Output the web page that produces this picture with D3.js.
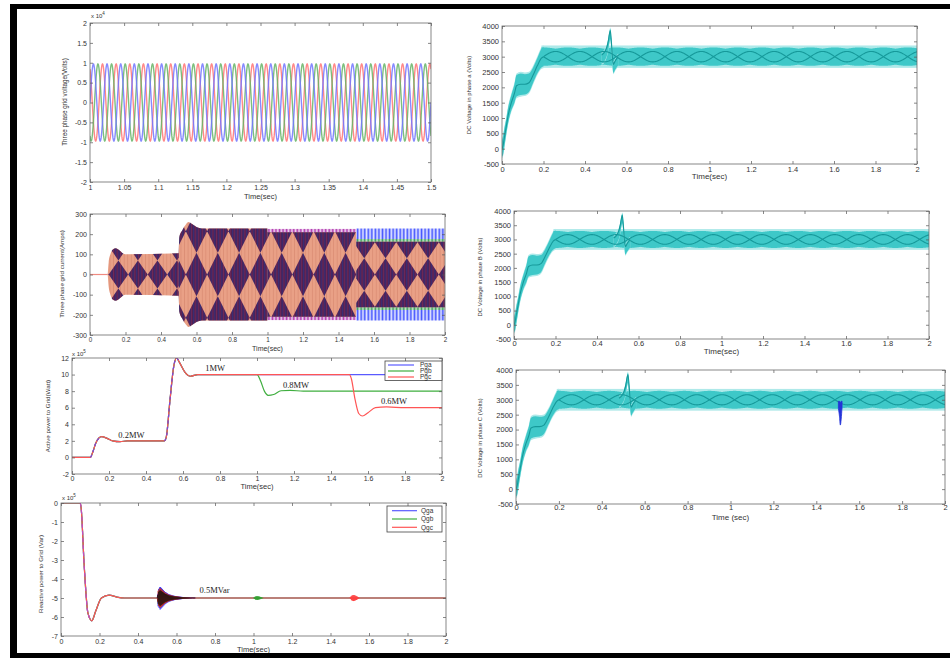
<!DOCTYPE html>
<html><head><meta charset="utf-8">
<script src="https://cdn.jsdelivr.net/npm/d3@7"></script>
<style>
html,body{margin:0;padding:0;background:#fff;overflow:hidden;}
</style></head><body>
<svg id="c" width="950" height="658"></svg>
<script>
// ================= DATA =================
const timeTicks = [0,0.2,0.4,0.6,0.8,1,1.2,1.4,1.6,1.8,2];

// Panel 1 : three phase grid voltage (x10^4 V), 1.0 - 1.5 s
const voltTimeTicks = [1,1.05,1.1,1.15,1.2,1.25,1.3,1.35,1.4,1.45,1.5];
const voltTicks = [-2,-1.5,-1,-0.5,0,0.5,1,1.5,2];
const voltPhaseShiftDeg = [120,-120,0];
const voltPeak = [0.97,0.97,0.97];
const gridFreqHz = [50];

// Panel 2 : three phase grid current (A)
const currTicks = [-300,-200,-100,0,100,200,300];
const currZeroT = [0,0.1];
const currEnvT = [0.1,0.105,0.115,0.13,0.145,0.165,0.185,0.2,0.499, 0.5,0.503,0.52,0.54,0.555,0.575,0.6,0.63,0.999, 1.0,1.499, 1.5,2.0];
const currEnvA = [0,60,100,125,130,120,105,100,105, 110,185,220,248,260,250,235,228,228, 210,210, 162,162];
const segStart = [0.1,0.5,1.0,1.5];
const segEnd = [0.5,1.0,1.5,2.0];
const segLattice = [140,215,215,160];
const segBeat = [0.11,0.12,0.12,0.12];
const segFirstNode = [0.16,0.6,1.08,1.665];
const fringeT0 = [1.0,1.5,1.5];
const fringeT1 = [1.5,2.0,2.0];
const fringeAmp = [226,228,176];

// Panel 3 : active power (x10^5 W)
const powerTicks = [-2,0,2,4,6,8,10,12];
const pCommonT = [0,0.1,0.11,0.13,0.16,0.19,0.22,0.26,0.3,0.5,0.51,0.53,0.55,0.565,0.58,0.61,0.64,0.68,0.72];
const pCommonV = [0,0,0.5,1.8,2.5,2.3,2.0,1.9,2.0,2.0,2.5,7,11,12,11.5,10.3,9.8,10,10];
const pgaT = [1.0,2.0];
const pgaV = [10,10];
const pgbT = [1.0,1.02,1.04,1.06,1.09,1.13,1.18,1.25,2.0];
const pgbV = [10,9.2,8.0,7.5,7.6,8.05,8.1,8.0,8.0];
const pgcT = [1.5,1.51,1.53,1.55,1.57,1.6,1.64,1.7,1.8,2.0];
const pgcV = [10,9.5,7,5.3,5.0,5.4,6.0,6.1,6.0,6.0];
const pNames = ["Pga","Pgb","Pgc"];
const pLabels = ["0.2MW","1MW","0.8MW","0.6MW"];
const pLabelT = [0.25,0.72,1.14,1.67];
const pLabelV = [2.3,10.4,8.4,6.4];

// Panel 4 : reactive power (x10^5 Var)
const reactTicks = [-7,-6,-5,-4,-3,-2,-1,0];
const qT = [0,0.1,0.105,0.12,0.14,0.16,0.18,0.21,0.25,0.29,0.33,2.0];
const qV = [0,0,-0.3,-3.2,-5.8,-6.2,-5.7,-5.0,-4.85,-4.95,-5.0,-5.0];
const qNames = ["Qga","Qgb","Qgc"];
const qBurst1T = [0.5,0.505,0.515,0.525,0.54,0.56,0.59,0.63,0.7];
const qBurst1A = [0,0.4,0.55,0.45,0.3,0.18,0.1,0.05,0];
const qBurst2T = [1.0,1.01,1.02,1.035,1.05];
const qBurst2A = [0,0.08,0.1,0.06,0];
const qBurst3T = [1.5,1.51,1.52,1.535,1.55];
const qBurst3A = [0,0.12,0.16,0.1,0];
const qLabel = ["0.5MVar"];
const qLabelT = [0.72];
const qLabelV = [-4.75];

// Right panels : DC voltages (V)
const dcTicks = [-500,0,500,1000,1500,2000,2500,3000,3500,4000];
const dcRampT = [0,0.005,0.01,0.02,0.03,0.045,0.06,0.07,0.09,0.11,0.13,0.15,0.17,0.19,0.2];
const dcRampC = [0,100,300,700,1100,1500,1800,2050,2100,2100,2150,2400,2700,2950,3000];
const dcRampH = [250,300,300,250,250,250,300,350,350,330,300,250,250,300,320];
const dcLevel = [3000];
const dcBandHalf = [365,300,170];
const dcEyeLen = [0.117];
const dcEyeStart = [0.2];
const dcSpikeT = [0.48,0.495,0.505,0.512,0.518,0.522,0.527,0.532,0.537,0.545,0.56];
const dcSpikeV = [3050,3150,3300,3500,3750,3850,3500,3000,2750,2850,3000];
const dcDipT = [1.503,1.508,1.512,1.516,1.52];
const dcDipLow = [2700,2450,2150,2350,2750];
const dcDipHigh = [2950,2950,2900,2950,2950];

// ================= DRAWING =================
const svg = d3.select("#c");
const defs = svg.append("defs");
const SANS = '"Liberation Sans", Arial, Helvetica, sans-serif';
const SERIF = '"Liberation Serif", "Times New Roman", serif';
const fmt = d => String(+(+d).toFixed(2));

function makePanel(o){
  const x = d3.scaleLinear().domain(o.xd).range([o.x0,o.x1]);
  const y = d3.scaleLinear().domain(o.yd).range([o.y1,o.y0]);
  defs.append("clipPath").attr("id","clip-"+o.id).append("rect")
    .attr("x",o.x0).attr("y",o.y0).attr("width",o.x1-o.x0).attr("height",o.y1-o.y0);
  const root = svg.append("g");
  const plot = root.append("g").attr("clip-path",`url(#clip-${o.id})`);
  function finish(){
    const ax = root.append("g");
    const b = ax.append("g").attr("transform",`translate(0,${o.y1})`)
      .call(d3.axisBottom(x).tickValues(o.xt).tickFormat(fmt).tickSizeInner(-3).tickSizeOuter(0));
    b.selectAll("text").attr("y", o.xtb - o.y1).attr("dy", null);
    ax.append("g").attr("transform",`translate(0,${o.y0})`)
      .call(d3.axisTop(x).tickValues(o.xt).tickFormat("").tickSizeInner(-3).tickSizeOuter(0));
    ax.append("g").attr("transform",`translate(${o.x0},0)`)
      .call(d3.axisLeft(y).tickValues(o.yt).tickFormat(fmt).tickSizeInner(-3).tickSizeOuter(0).tickPadding(3));
    ax.append("g").attr("transform",`translate(${o.x1},0)`)
      .call(d3.axisRight(y).tickValues(o.yt).tickFormat("").tickSizeInner(-3).tickSizeOuter(0));
    ax.selectAll(".domain").remove();
    ax.selectAll(".tick line").attr("stroke","#555").attr("stroke-width",0.7);
    ax.selectAll(".tick text").attr("font-size",o.fs).attr("font-family",SANS).attr("fill","#333");
    if(o.xfs) b.selectAll("text").attr("font-size",o.xfs);
    ax.append("rect").attr("x",o.x0).attr("y",o.y0).attr("width",o.x1-o.x0).attr("height",o.y1-o.y0)
      .attr("fill","none").attr("stroke","#6a6a6a").attr("stroke-width",0.8);
    ax.append("text").attr("x",(o.x0+o.x1)/2).attr("y",o.xlb).attr("text-anchor","middle")
      .attr("font-size",o.lfs).attr("font-family",SANS).attr("fill","#333").text(o.xlab);
    ax.append("text").attr("transform",`translate(${o.ylx},${o.yly}) rotate(-90)`).attr("text-anchor","middle")
      .attr("font-size",o.yfs).attr("font-family",SANS).attr("fill","#333").text(o.ylab);
    if(o.exp){
      const t = ax.append("text").attr("x",o.exp[0]).attr("y",o.exp[1]).attr("font-size",6)
        .attr("font-family",SANS).attr("fill","#333");
      t.append("tspan").text("x 10");
      t.append("tspan").attr("dy",-3).attr("font-size",4.5).text(o.exp[2]);
    }
  }
  return {x,y,plot,root,finish};
}

function legend(g, x0, y0, w, h, rows, names, colors, lx0, lx1, tx){
  g.append("rect").attr("x",x0).attr("y",y0).attr("width",w).attr("height",h)
    .attr("fill","#fff").attr("stroke","#444").attr("stroke-width",0.8);
  names.forEach((n,i)=>{
    g.append("line").attr("x1",lx0).attr("x2",lx1).attr("y1",rows[i]).attr("y2",rows[i])
      .attr("stroke",colors[i]).attr("stroke-width",1.2);
    g.append("text").attr("x",tx).attr("y",rows[i]+2.2).attr("font-size",6.5)
      .attr("font-family",SANS).attr("fill","#333").text(n);
  });
}

// ---------- Panel 1 ----------
{
  const P = makePanel({id:"p1",x0:90,x1:431,y0:23,y1:182,xd:[1,1.5],yd:[-2,2],xt:voltTimeTicks,yt:voltTicks,
    xtb:190,xlb:199,xlab:"Time(sec)",ylab:"Three phase grid voltage(Volts)",ylx:67,yly:102,fs:7,lfs:7.5,yfs:6.3,exp:[91,18,"4"]});
  const cols = ["#ff7474","#66b466","#7276ff"];
  const ts = d3.range(1, 1.50001, 0.0004);
  voltPhaseShiftDeg.forEach((ph,i)=>{
    const line = d3.line().x(t=>P.x(t))
      .y(t=>P.y(voltPeak[i]*Math.sin(2*Math.PI*gridFreqHz[0]*t + ph*Math.PI/180)));
    P.plot.append("path").attr("d",line(ts)).attr("fill","none")
      .attr("stroke",cols[i]).attr("stroke-width",1.4).attr("opacity",0.85);
  });
  P.finish();
}

// ---------- Panel 2 ----------
{
  const P = makePanel({id:"p2",x0:90,x1:445,y0:214,y1:335,xd:[0,2],yd:[-300,300],xt:timeTicks,yt:currTicks,
    xtb:342,xlb:350.5,xlab:"Time(sec)",ylab:"Three phase grid current(Amps)",ylx:64,yly:274,fs:7,xfs:6.3,lfs:7,yfs:6.2});
  const {x,y,plot} = P;
  const cw = x(0.02)-x(0);
  function stripePat(id,bg,lines){
    const p = defs.append("pattern").attr("id",id).attr("patternUnits","userSpaceOnUse")
      .attr("width",cw).attr("height",20).attr("x",x(0)).attr("y",0);
    p.append("rect").attr("width",cw).attr("height",20).attr("fill",bg);
    lines.forEach(([lx,w,c])=>p.append("rect").attr("x",lx*cw).attr("y",0).attr("width",w).attr("height",20).attr("fill",c));
  }
  stripePat("pSal","#e9a086",[[0.55,0.7,"#d98a72"]]);
  stripePat("pDark","#4b2051",[[0.05,0.9,"#35307f"],[0.55,0.8,"#7a2a58"]]);
  stripePat("pMag","#ecd2ec",[[0.15,1.7,"#b23ab2"]]);
  stripePat("pBlue","#e2e5ff",[[0.15,1.7,"#4656ff"]]);
  stripePat("pGreen","#bfe0c4",[[0.15,1.6,"#3a9e5a"]]);
  const fringePats = ["pMag","pBlue","pGreen"];

  plot.append("path").attr("d",d3.line().x(t=>x(t)).y(()=>y(0))(currZeroT))
    .attr("stroke","#f08a80").attr("stroke-width",1.2).attr("fill","none");

  fringeT0.forEach((t0,i)=>{
    plot.append("rect").attr("x",x(t0)).attr("width",x(fringeT1[i])-x(t0))
      .attr("y",y(fringeAmp[i])).attr("height",y(-fringeAmp[i])-y(fringeAmp[i]))
      .attr("fill",`url(#${fringePats[i]})`);
  });

  const env = currEnvT.map((t,i)=>({t,a:currEnvA[i]}));
  const envArea = d3.area().x(d=>x(d.t)).y0(d=>y(-d.a)).y1(d=>y(d.a)).curve(d3.curveMonotoneX);
  defs.append("clipPath").attr("id","envClip").append("path").attr("d",envArea(env));
  plot.append("path").attr("d",envArea(env)).attr("fill","url(#pSal)");
  const dg = plot.append("g").attr("clip-path","url(#envClip)");
  segStart.forEach((ts,s)=>{
    const te = segEnd[s], Ap = segLattice[s], W = segBeat[s], c0 = segFirstNode[s];
    defs.append("clipPath").attr("id","seg"+s).append("rect")
      .attr("x",x(ts)).attr("y",y(300)).attr("width",x(te)-x(ts)).attr("height",y(-300)-y(300));
    const sg = dg.append("g").attr("clip-path",`url(#seg${s})`);
    const kMin = Math.floor((ts-c0)/W)-1, kMax = Math.ceil((te-c0)/W)+1;
    for(let k=kMin;k<=kMax;k++){
      const cx = c0 + k*W;
      [-2,0,2].forEach(j=>{
        const cy = j*Ap/2;
        const pts = [[cx-W/2,cy],[cx,cy+Ap/2],[cx+W/2,cy],[cx,cy-Ap/2]]
          .map(([a,b])=>[x(a),y(b)]);
        sg.append("polygon").attr("points",pts.map(p=>p.join(",")).join(" ")).attr("fill","url(#pDark)");
      });
    }
  });
  P.finish();
}

// ---------- Panel 3 ----------
{
  const P = makePanel({id:"p3",x0:72,x1:442,y0:358,y1:474,xd:[0,2],yd:[-2,12],xt:timeTicks,yt:powerTicks,
    xtb:481,xlb:488.5,xlab:"Time(sec)",ylab:"Active power to Grid(Watt)",ylx:50,yly:416,fs:7,lfs:7.5,yfs:6.2,exp:[72,356,"5"]});
  const {x,y,plot} = P;
  const cols = ["#5a5aff","#3fae3f","#ff5555"];
  const common = pCommonT.map((t,i)=>({t,v:pCommonV[i]}));
  const series = [
    common.concat(pgaT.map((t,i)=>({t,v:pgaV[i]}))),
    common.concat(pgbT.map((t,i)=>({t,v:pgbV[i]}))),
    common.concat(pgcT.map((t,i)=>({t,v:pgcV[i]})))
  ];
  const line = d3.line().x(d=>x(d.t)).y(d=>y(d.v)).curve(d3.curveMonotoneX);
  series.forEach((s,i)=>plot.append("path").attr("d",line(s)).attr("fill","none")
    .attr("stroke",cols[i]).attr("stroke-width",1.2));
  [[0.1,0.17],[0.5,0.575]].forEach(([a,b])=>{
    plot.append("path").attr("d",line(common.filter(d=>d.t>=a-0.001&&d.t<=b+0.01)))
      .attr("fill","none").attr("stroke","#7a48d8").attr("stroke-width",1.2).attr("stroke-dasharray","3,3");
  });
  pLabels.forEach((l,i)=>plot.append("text").attr("x",x(pLabelT[i])).attr("y",y(pLabelV[i]))
    .attr("font-family",SERIF).attr("font-size",8.5).attr("fill","#222").text(l));
  P.finish();
  legend(P.root,385,361,57,19.5,[365,371,377],pNames,cols,388,414,420);
}

// ---------- Panel 4 ----------
{
  const P = makePanel({id:"p4",x0:61,x1:446,y0:503,y1:636,xd:[0,2],yd:[-7,0],xt:timeTicks,yt:reactTicks,
    xtb:644,xlb:652,xlab:"Time(sec)",ylab:"Reactive power to Grid (Var)",ylx:43,yly:574,fs:7,lfs:7.5,yfs:6.2,exp:[62,500,"5"]});
  const {x,y,plot} = P;
  const cols = ["#5a5aff","#3fae3f","#ff5555"];
  const q = qT.map((t,i)=>({t,v:qV[i]}));
  const line = d3.line().x(d=>x(d.t)).y(d=>y(d.v)).curve(d3.curveMonotoneX);
  cols.forEach(c=>plot.append("path").attr("d",line(q)).attr("fill","none").attr("stroke",c).attr("stroke-width",1.2));
  plot.append("path").attr("d",line(q.filter(d=>d.t>=0.1&&d.t<=0.16))).attr("fill","none")
    .attr("stroke","#c050c0").attr("stroke-width",1.2).attr("stroke-dasharray","4,3");
  function burst(T,A,color,scale,phase,w){
    const s = d3.scaleLinear().domain(T).range(A).clamp(true);
    const pts = d3.range(T[0],T[T.length-1],0.0025).map((t,k)=>({t,v:-5+((k+phase)%2?1:-1)*s(t)*scale}));
    plot.append("path").attr("d",d3.line().x(d=>x(d.t)).y(d=>y(d.v))(pts))
      .attr("fill","none").attr("stroke",color).attr("stroke-width",w);
  }
  burst(qBurst1T,qBurst1A,"#3030ff",1.1,0,0.8);
  burst(qBurst1T,qBurst1A,"#c83020",0.95,1,0.8);
  burst(qBurst1T,qBurst1A,"#2a1410",0.75,0,0.8);
  burst(qBurst2T,qBurst2A,"#30a030",1,0,0.9);
  burst(qBurst3T,qBurst3A,"#ff4040",1,0,0.9);
  plot.append("text").attr("x",x(qLabelT[0])).attr("y",y(qLabelV[0]))
    .attr("font-family",SERIF).attr("font-size",8.5).attr("fill","#222").text(qLabel[0]);
  P.finish();
  legend(P.root,387,506,55,26,[510.7,519,527.3],qNames,cols,392,417,421);
}

// ---------- Right panels ----------
function drawDC(P, withDip){
  const {x,y,plot} = P;
  const LIGHT="#aee9e9", MID="#3ec8c8", DARK="#16999a";
  const L = dcLevel[0], [hl,hm,he] = dcBandHalf, W = dcEyeLen[0], e0 = dcEyeStart[0];
  const ramp = dcRampT.map((t,i)=>({t,c:dcRampC[i],h:dcRampH[i]}));
  const rampArea = ex => d3.area().x(d=>x(d.t)).y0(d=>y(d.c-d.h-ex)).y1(d=>y(d.c+d.h+ex)).curve(d3.curveMonotoneX);
  plot.append("path").attr("d",rampArea(55)(ramp)).attr("fill",LIGHT);
  plot.append("rect").attr("x",x(0.19)).attr("width",x(2)-x(0.19)).attr("y",y(L+hl)).attr("height",y(L-hl)-y(L+hl)).attr("fill",LIGHT);
  plot.append("path").attr("d",rampArea(0)(ramp)).attr("fill",MID);
  const tt = d3.range(0.19, 2.0001, 0.002);
  const sc = t=>Math.abs(Math.cos(Math.PI*(t-e0)/W));
  plot.append("path").attr("d",d3.area().x(t=>x(t)).y0(t=>y(L-hm+40-40*sc(t))).y1(t=>y(L+hm-40+40*sc(t)))(tt)).attr("fill",MID);
  plot.append("path").attr("d",d3.line().x(d=>x(d.t)).y(d=>y(d.c)).curve(d3.curveMonotoneX)(ramp))
    .attr("fill","none").attr("stroke",DARK).attr("stroke-width",1.1);
  const sp = dcSpikeT.map((t,i)=>({t,v:dcSpikeV[i]}));
  plot.append("path").attr("d",d3.area().x(d=>x(d.t)).y0(d=>y(d.v-320)).y1(d=>y(d.v+100)).curve(d3.curveMonotoneX)(sp)).attr("fill",LIGHT);
  plot.append("path").attr("d",d3.area().x(d=>x(d.t)).y0(d=>y(d.v-280)).y1(d=>y(d.v+60)).curve(d3.curveMonotoneX)(sp)).attr("fill",MID);
  const te = tt.filter(t=>t>=e0);
  [1,-1].forEach(sg=>{
    plot.append("path").attr("d",d3.line().x(t=>x(t)).y(t=>y(L+sg*he*Math.sin(Math.PI*(t-e0)/W)))(te))
      .attr("fill","none").attr("stroke",DARK).attr("stroke-width",1.1);
  });
  plot.append("path").attr("d",d3.line().x(d=>x(d.t)).y(d=>y(d.v)).curve(d3.curveMonotoneX)(sp))
    .attr("fill","none").attr("stroke",DARK).attr("stroke-width",1.1);
  if(withDip){
    const dp = dcDipT.map((t,i)=>({t,lo:dcDipLow[i],hi:dcDipHigh[i]}));
    plot.append("path").attr("d",d3.area().x(d=>x(d.t)).y0(d=>y(d.lo)).y1(d=>y(d.hi)).curve(d3.curveMonotoneX)(dp))
      .attr("fill","#2434d8").attr("stroke","#2434d8").attr("stroke-width",0.8);
  }
}
{
  const P = makePanel({id:"r1",x0:502,x1:917,y0:26,y1:164,xd:[0,2],yd:[-500,4000],xt:timeTicks,yt:dcTicks,
    xtb:171.5,xlb:179,xlab:"Time(sec)",ylab:"DC Voltage in phase a (Volts)",ylx:471,yly:95,fs:7.5,lfs:8,yfs:6});
  drawDC(P,false); P.finish();
}
{
  const P = makePanel({id:"r2",x0:514,x1:929,y0:211,y1:339,xd:[0,2],yd:[-500,4000],xt:timeTicks,yt:dcTicks,
    xtb:346,xlb:354,xlab:"Time(sec)",ylab:"DC Voltage in phase B (Volts)",ylx:482,yly:277,fs:7.5,lfs:8,yfs:6});
  drawDC(P,false); P.finish();
}
{
  const P = makePanel({id:"r3",x0:516,x1:945,y0:370,y1:504,xd:[0,2],yd:[-500,4000],xt:timeTicks,yt:dcTicks,
    xtb:510,xlb:520,xlab:"Time (sec)",ylab:"DC Voltage in phase C (Volts)",ylx:482,yly:438,fs:7.5,lfs:8,yfs:6});
  drawDC(P,true); P.finish();
}

// ---------- Frame ----------
svg.append("rect").attr("x",10).attr("y",4).attr("width",940).attr("height",5).attr("fill","#000");
svg.append("rect").attr("x",10).attr("y",4).attr("width",7).attr("height",654).attr("fill","#000");
svg.append("rect").attr("x",10).attr("y",653).attr("width",940).attr("height",5).attr("fill","#000");
</script>
</body></html>
